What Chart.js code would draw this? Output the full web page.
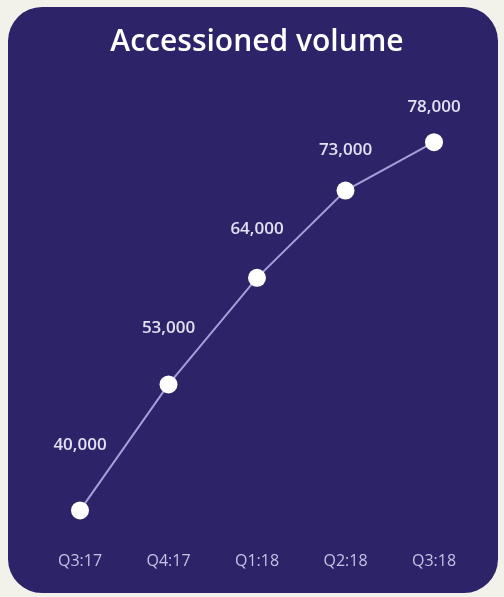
<!DOCTYPE html>
<html>
<head>
<meta charset="utf-8">
<script src="https://cdn.jsdelivr.net/npm/chart.js@4/dist/chart.umd.min.js"></script>
<style>
  html, body { margin: 0; padding: 0; background: #f2f2ea; }
  #wrap { position: relative; width: 504px; height: 597px; }
  #card {
    position: absolute; left: 8px; top: 7px; width: 490px; height: 586px;
    background: #2d2368; border-radius: 34px;
  }
  canvas { position: absolute; left: 0; top: 0; }
</style>
</head>
<body>
<div id="wrap">
  <div id="card"></div>
  <canvas id="volumeChart" width="504" height="597"></canvas>
</div>
<script>
// quarters and accessioned volume
let quarters = ["Q3:17", "Q4:17", "Q1:18", "Q2:18", "Q3:18"]
let volumes = [40000, 53000, 64000, 73000, 78000]
let volumeLabels = ["40,000", "53,000", "64,000", "73,000", "78,000"]

// how far above each point its label sits (px)
let labelLift = [65, 56, 49, 40, 35]

let pointLabels = {
  id: "pointLabels",
  afterDatasetsDraw(chart) {
    let ctx = chart.ctx
    let meta = chart.getDatasetMeta(0)
    ctx.save()
    ctx.font = "600 17px 'Open Sans'"
    ctx.fillStyle = "#e2e0f2"
    ctx.textAlign = "center"
    ctx.textBaseline = "middle"
    meta.data.forEach(function (pt, i) {
      ctx.fillText(volumeLabels[i], pt.x, pt.y - labelLift[i])
    })
    ctx.restore()
  }
}

let ctx = document.getElementById("volumeChart").getContext("2d")
let chart = new Chart(ctx, {
  type: "line",
  data: {
    labels: quarters,
    datasets: [{
      data: volumes,
      borderColor: "#a69ed8",
      borderWidth: 2,
      tension: 0,
      pointRadius: 9,
      pointHoverRadius: 9,
      pointBackgroundColor: "#ffffff",
      pointBorderColor: "#ffffff",
      pointBorderWidth: 0
    }]
  },
  options: {
    responsive: false,
    animation: false,
    layout: { padding: { left: 80, right: 70, top: 0, bottom: 4 } },
    plugins: {
      legend: { display: false },
      tooltip: { enabled: false },
      title: {
        display: true,
        text: "Accessioned volume",
        color: "#ffffff",
        font: { family: "'Open Sans'", size: 30, weight: "600" },
        padding: { top: 24, bottom: 24 }
      }
    },
    scales: {
      x: {
        offset: false,
        grid: { display: false, drawTicks: false },
        border: { display: false },
        ticks: {
          color: "#c6c2e4",
          font: { family: "'Open Sans'", size: 16 },
          padding: 22
        }
      },
      y: {
        display: false,
        min: 38000,
        max: 84000
      }
    }
  },
  plugins: [pointLabels]
})
</script>
</body>
</html>
